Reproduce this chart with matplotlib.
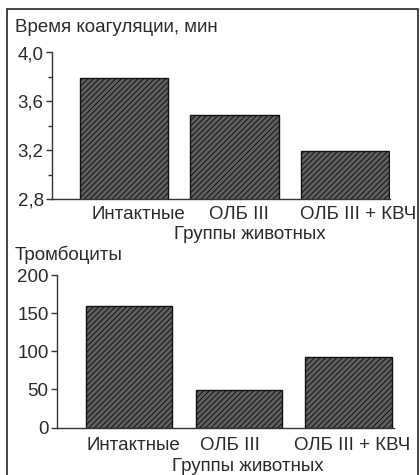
import matplotlib
matplotlib.use("Agg")
import matplotlib.pyplot as plt
import matplotlib.transforms as mtransforms
from matplotlib.patches import Rectangle

plt.rcParams['font.family'] = ['Liberation Sans', 'DejaVu Sans']
plt.rcParams['hatch.linewidth'] = 0.7

groups = ["Интактные", "ОЛБ III", "ОЛБ III + КВЧ"]
coag_time = [3.79, 3.49, 3.19]
platelets = [159, 49, 93]
coag_ticks = [2.8, 3.2, 3.6, 4.0]
coag_ticklabels = ["2,8", "3,2", "3,6", "4,0"]
plt_ticks = [0, 50, 100, 150, 200]
xlabel = "Группы животных"
title_top = "Время коагуляции, мин"
title_bottom = "Тромбоциты"

W, H = 420, 475
fig = plt.figure(figsize=(W / 100, H / 100), dpi=100)
fig.patch.set_facecolor('white')

# outer frame
fig.patches.append(Rectangle((7 / W, 1 - 485 / H), 411 / W, 476 / H, transform=fig.transFigure,
                             fill=False, edgecolor='#222222', linewidth=1.2))

def px_axes(left, top, right, bottom):
    return fig.add_axes([left / W, 1 - bottom / H, (right - left) / W, (bottom - top) / H])

FS = 13.5
TC = '#2a2a2a'

def style(ax, x, offsets, pad):
    ax.spines['top'].set_visible(False)
    ax.spines['right'].set_visible(False)
    for s in ('left', 'bottom'):
        ax.spines[s].set_linewidth(1.0)
        ax.spines[s].set_color('#333333')
    ax.set_xticks(x)
    ax.set_xticklabels(groups, fontsize=FS, color=TC)
    ax.tick_params(axis='x', length=0, pad=pad)
    ax.tick_params(axis='y', direction='out', length=4, width=1, colors='#333333',
                   labelsize=FS, labelcolor=TC, pad=2)
    for lab, dx in zip(ax.get_xticklabels(), offsets):
        lab.set_transform(lab.get_transform() + mtransforms.ScaledTranslation(dx / 100, 0, fig.dpi_scale_trans))
    ax.set_xlabel(xlabel, fontsize=FS, color=TC, labelpad=0)
    ax.set_xlim(-0.655, 2.41)

x = list(range(len(groups)))

# top chart
ax1 = px_axes(52, 52.5, 390, 199)
ax1.bar(x, coag_time, width=0.8, bottom=0, facecolor='#606060', edgecolor='#111111',
        hatch='//////', linewidth=1.0)
ax1.set_ylim(2.8, 4.0)
ax1.set_yticks(coag_ticks)
ax1.set_yticklabels(coag_ticklabels)
ax1.set_yticks([3.0, 3.4, 3.8], minor=True)
ax1.tick_params(axis='y', which='minor', length=3, width=1, colors='#333333')
style(ax1, x, [14, 4, 13], 5)
ax1.xaxis.set_label_coords(0.585, -0.185)

# bottom chart
ax2 = px_axes(57, 275, 394, 427.5)
ax2.bar(x, platelets, width=0.79, facecolor='#606060', edgecolor='#111111',
        hatch='//////', linewidth=1.0)
ax2.set_ylim(0, 200)
ax2.set_yticks(plt_ticks)
style(ax2, x, [4, -9, 3], 7)
ax2.xaxis.set_label_coords(0.565, -0.2)

fig.text(15 / W, 1 - 27 / H, title_top, fontsize=FS, color=TC, va='center', ha='left')
fig.text(15 / W, 1 - 255 / H, title_bottom, fontsize=FS, color=TC, va='center', ha='left')

fig.savefig("out.png", dpi=100)
